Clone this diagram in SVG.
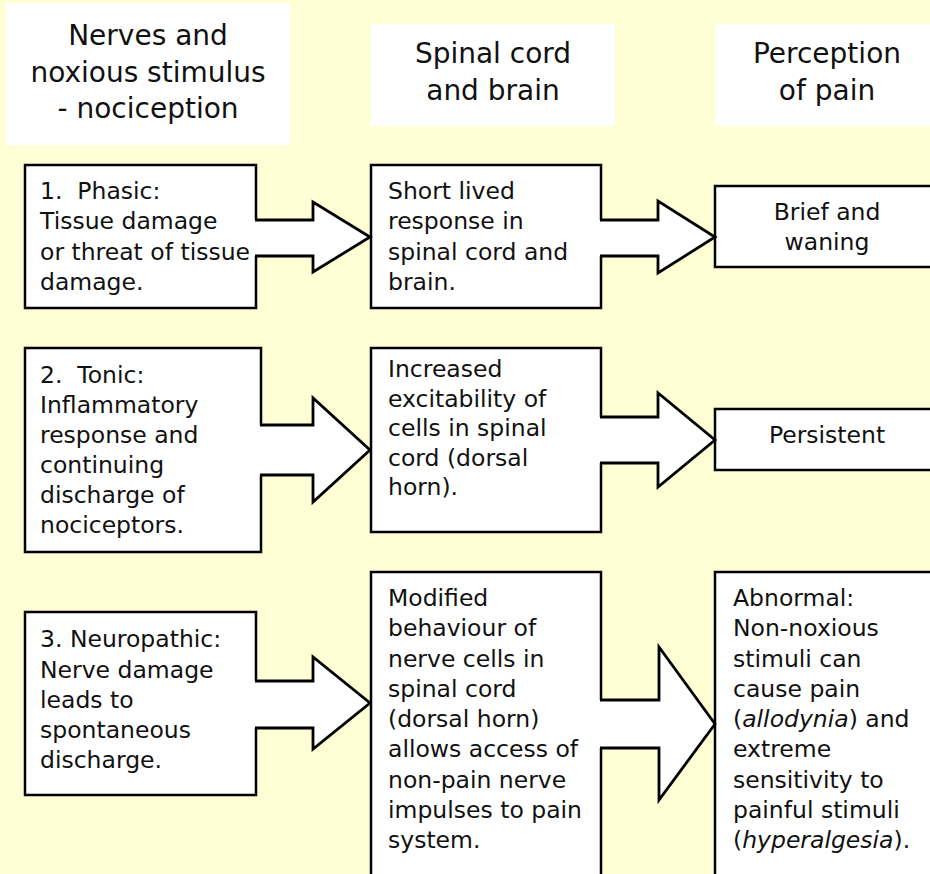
<svg xmlns="http://www.w3.org/2000/svg" width="930" height="874" viewBox="0 0 930 874">
<style>
  .bg { fill: #FFFFD6; }
  .hdr { fill: #FFFFFF; stroke: none; }
  .box { fill: #FFFFFF; stroke: #000000; stroke-width: 2.5; }
  .ht { font-family: "DejaVu Sans", sans-serif; font-size: 28px; fill: #111111; text-anchor: middle; }
  .t { font-family: "DejaVu Sans", sans-serif; font-size: 23.5px; fill: #111111; }
  .c { text-anchor: middle; }
  .af { fill: #FFFFFF; stroke: none; }
  .as { fill: none; stroke: #000000; stroke-width: 2.8; stroke-linejoin: miter; }
</style>
<rect class="bg" x="0" y="0" width="930" height="874"/>

<g id="header-nerves">
  <rect class="hdr" x="6" y="3" width="284" height="142"/>
  <text class="ht" x="148" y="45">Nerves and</text>
  <text class="ht" x="148" y="82">noxious stimulus</text>
  <text class="ht" x="148" y="118">- nociception</text>
</g>
<g id="header-spinal">
  <rect class="hdr" x="371" y="24" width="244" height="102"/>
  <text class="ht" x="493" y="63">Spinal cord</text>
  <text class="ht" x="493" y="100">and brain</text>
</g>
<g id="header-perception">
  <rect class="hdr" x="715" y="24" width="220" height="102"/>
  <text class="ht" x="827" y="63">Perception</text>
  <text class="ht" x="827" y="100">of pain</text>
</g>

<g id="phasic">
  <rect class="box" x="25" y="165" width="231" height="143"/>
  <text class="t" x="40" y="199">1.&#160; Phasic:</text>
  <text class="t" x="40" y="229">Tissue damage</text>
  <text class="t" x="40" y="260">or threat of tissue</text>
  <text class="t" x="40" y="290">damage.</text>
</g>
<g id="short-lived">
  <rect class="box" x="371" y="165" width="230" height="143"/>
  <text class="t" x="388" y="199">Short lived</text>
  <text class="t" x="388" y="229">response in</text>
  <text class="t" x="388" y="260">spinal cord and</text>
  <text class="t" x="388" y="290">brain.</text>
</g>
<g id="brief">
  <rect class="box" x="715" y="186" width="222" height="81"/>
  <text class="t c" x="827" y="220">Brief and</text>
  <text class="t c" x="827" y="250">waning</text>
</g>

<g id="tonic">
  <rect class="box" x="25" y="348" width="236" height="204"/>
  <text class="t" x="40" y="383">2.&#160; Tonic:</text>
  <text class="t" x="40" y="413">Inflammatory</text>
  <text class="t" x="40" y="443">response and</text>
  <text class="t" x="40" y="473">continuing</text>
  <text class="t" x="40" y="503">discharge of</text>
  <text class="t" x="40" y="533">nociceptors.</text>
</g>
<g id="increased">
  <rect class="box" x="371" y="348" width="230" height="184"/>
  <text class="t" x="388" y="377">Increased</text>
  <text class="t" x="388" y="406.5">excitability of</text>
  <text class="t" x="388" y="436">cells in spinal</text>
  <text class="t" x="388" y="465.5">cord (dorsal</text>
  <text class="t" x="388" y="495">horn).</text>
</g>
<g id="persistent">
  <rect class="box" x="715" y="409" width="222" height="61"/>
  <text class="t c" x="827" y="443">Persistent</text>
</g>

<g id="neuropathic">
  <rect class="box" x="25" y="612" width="231" height="183"/>
  <text class="t" x="40" y="647">3. Neuropathic:</text>
  <text class="t" x="40" y="677.5">Nerve damage</text>
  <text class="t" x="40" y="708">leads to</text>
  <text class="t" x="40" y="738">spontaneous</text>
  <text class="t" x="40" y="768">discharge.</text>
</g>
<g id="modified">
  <rect class="box" x="371" y="572" width="230" height="320"/>
  <text class="t" x="388" y="606">Modified</text>
  <text class="t" x="388" y="636">behaviour of</text>
  <text class="t" x="388" y="666.5">nerve cells in</text>
  <text class="t" x="388" y="697">spinal cord</text>
  <text class="t" x="388" y="727">(dorsal horn)</text>
  <text class="t" x="388" y="757">allows access of</text>
  <text class="t" x="388" y="787.5">non-pain nerve</text>
  <text class="t" x="388" y="818">impulses to pain</text>
  <text class="t" x="388" y="848">system.</text>
</g>
<g id="abnormal">
  <rect class="box" x="715" y="572" width="222" height="320"/>
  <text class="t" x="733" y="606">Abnormal:</text>
  <text class="t" x="733" y="636">Non-noxious</text>
  <text class="t" x="733" y="666.5">stimuli can</text>
  <text class="t" x="733" y="697">cause pain</text>
  <text class="t" x="733" y="727">(<tspan font-style="italic">allodynia</tspan>) and</text>
  <text class="t" x="733" y="757">extreme</text>
  <text class="t" x="733" y="787.5">sensitivity to</text>
  <text class="t" x="733" y="818">painful stimuli</text>
  <text class="t" x="733" y="848">(<tspan font-style="italic">hyperalgesia</tspan>).</text>
</g>

<g id="connectors">
  <g id="arrow-phasic-short">
    <path class="af" d="M253,220 H313 V202 L370,237 L313,272 V256 H253 Z"/>
    <path class="as" d="M255,220 H313 V202 L370,237 L313,272 V256 H255"/>
  </g>
  <g id="arrow-short-brief">
    <path class="af" d="M598,220 H658 V201 L715,237 L658,273 V256 H598 Z"/>
    <path class="as" d="M600,220 H658 V201 L715,237 L658,273 V256 H600"/>
  </g>
  <g id="arrow-tonic-increased">
    <path class="af" d="M258,425 H313 V398 L370,450 L313,502 V475 H258 Z"/>
    <path class="as" d="M260,425 H313 V398 L370,450 L313,502 V475 H260"/>
  </g>
  <g id="arrow-increased-persistent">
    <path class="af" d="M598,417 H658 V393 L715,440 L658,487 V463 H598 Z"/>
    <path class="as" d="M600,417 H658 V393 L715,440 L658,487 V463 H600"/>
  </g>
  <g id="arrow-neuropathic-modified">
    <path class="af" d="M253,681 H313 V657 L370,703 L313,749 V728 H253 Z"/>
    <path class="as" d="M255,681 H313 V657 L370,703 L313,749 V728 H255"/>
  </g>
  <g id="arrow-modified-abnormal">
    <path class="af" d="M598,700 H659 V647 L715,724 L659,800 V748 H598 Z"/>
    <path class="as" d="M600,700 H659 V647 L715,724 L659,800 V748 H600"/>
  </g>
</g>
</svg>
